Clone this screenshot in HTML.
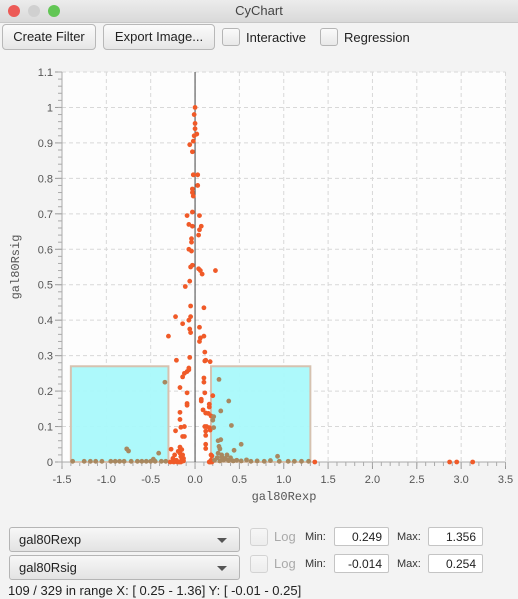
<!DOCTYPE html>
<html><head><meta charset="utf-8">
<style>
body{margin:0;width:518px;height:599px;background:#f3f3f3;font-family:"Liberation Sans",sans-serif;position:relative;overflow:hidden;font-size:13px;color:#222}
.abs{position:absolute}
.btn{position:absolute;border:1px solid #b8b8b8;border-radius:4px;background:linear-gradient(#fbfbfb,#e6e6e6);font-size:13px;text-align:center;line-height:24px;height:24px}
.cb{position:absolute;width:16px;height:16px;border:1px solid #b5b5b5;border-radius:3px;background:linear-gradient(#fafafa,#e8e8e8)}
.inp{position:absolute;background:#fff;border:1px solid #c4c4c4;border-radius:2px;height:19px;line-height:19px;text-align:right;padding-right:6px;box-sizing:border-box;font-size:12px}
.lbl{position:absolute;font-size:11px;color:#333}
.combo{position:absolute;left:9px;width:231px;height:25px;border:1px solid #b5b5b5;border-radius:3px;background:linear-gradient(#f7f7f7,#e3e3e3);box-sizing:border-box;font-size:13px;line-height:23px;padding-left:9px}
.combo:after{content:"";position:absolute;right:12px;top:10px;border-left:5px solid transparent;border-right:5px solid transparent;border-top:5px solid #555}
</style></head><body>
<div class="abs" style="left:0;top:0;width:518px;height:22px;background:linear-gradient(#ececec,#d9d9d9);border-bottom:1px solid #c8c8c8">
<div class="abs" style="left:8px;top:5px;width:12px;height:12px;border-radius:50%;background:#ec5a56"></div>
<div class="abs" style="left:28px;top:5px;width:12px;height:12px;border-radius:50%;background:#d0d0d0"></div>
<div class="abs" style="left:48px;top:5px;width:12px;height:12px;border-radius:50%;background:#62c655"></div>
<div class="abs" style="left:0;width:518px;top:3px;text-align:center;font-size:13px;color:#444">CyChart</div>
</div>
<div class="btn" style="left:2px;top:24px;width:92px">Create Filter</div>
<div class="btn" style="left:103px;top:24px;width:110px">Export Image...</div>
<div class="cb" style="left:222px;top:28px"></div>
<div class="abs" style="left:246px;top:30px">Interactive</div>
<div class="cb" style="left:320px;top:28px"></div>
<div class="abs" style="left:344px;top:30px">Regression</div>

<svg class="abs" style="left:0;top:0" width="518" height="520" id="chart"></svg>

<div class="combo" style="top:527px">gal80Rexp</div>
<div class="combo" style="top:555px">gal80Rsig</div>
<div class="cb" style="left:250px;top:528px;opacity:.5"></div>
<div class="abs" style="left:274px;top:529px;color:#aaa">Log</div>
<div class="lbl" style="left:305px;top:531px">Min:</div>
<div class="inp" style="left:334px;top:527px;width:55px">0.249</div>
<div class="lbl" style="left:397px;top:531px">Max:</div>
<div class="inp" style="left:428px;top:527px;width:55px">1.356</div>
<div class="cb" style="left:250px;top:555px;opacity:.5"></div>
<div class="abs" style="left:274px;top:556px;color:#aaa">Log</div>
<div class="lbl" style="left:305px;top:558px">Min:</div>
<div class="inp" style="left:334px;top:554px;width:55px">-0.014</div>
<div class="lbl" style="left:397px;top:558px">Max:</div>
<div class="inp" style="left:428px;top:554px;width:55px">0.254</div>
<div class="abs" style="left:8px;top:583px;font-size:13px">109 / 329 in range X: [ 0.25 - 1.36] Y: [ -0.01 - 0.25]</div>

<script>
const xTicks=["-1.5","-1.0","-0.5","0.0","0.5","1.0","1.5","2.0","2.5","3.0","3.5"];
const yTicks=["0","0.1","0.2","0.3","0.4","0.5","0.6","0.7","0.8","0.9","1","1.1"];
const orangeX=[0,-0.01,0,0,-0.01,0.02,-0.02,-0.06,-0.03,-0.02,0.03,0.03,-0.03,-0.03,-0.02,-0.03,-0.09,0.05,-0.07,-0.03,0.07,0.05,0.04,-0.04,-0.04,-0.07,-0.04,-0.03,-0.05,0.04,0.06,0.23,0.08,-0.06,-0.11,-0.05,0.1,-0.22,-0.05,-0.07,-0.14,0.05,-0.06,-0.05,0.1,0.06,-0.3,0.05,0.11,-0.06,-0.21,0.11,0.12,0.17,-0.07,-0.07,-0.09,-0.12,-0.14,0.1,0.1,-0.17,-0.09,0.11,0.2,0.07,0.07,-0.09,-0.09,0.16,0.16,-0.17,0.09,0.12,0.15,-0.17,0.18,-0.12,-0.16,-0.22,0.11,0.13,0.16,0.17,0.12,0.12,-0.14,-0.12,0.12,-0.17,0.12,-0.27,-0.17,0.18,0.19,-0.25,-0.23,-0.21,-0.19,-0.17,-0.16,-0.15,-0.14,-0.13,-0.2,-0.18,-0.16,-0.15,-0.13,-0.28,-0.24,0.16,0.17,0.18,0.19,1.35,2.87,2.95,3.13];
const orangeY=[1.0,0.98,0.955,0.94,0.92,0.925,0.905,0.895,0.875,0.81,0.81,0.78,0.77,0.76,0.75,0.705,0.695,0.695,0.67,0.665,0.665,0.655,0.64,0.63,0.62,0.6,0.595,0.555,0.55,0.545,0.54,0.54,0.53,0.51,0.495,0.44,0.435,0.41,0.41,0.4,0.39,0.38,0.375,0.365,0.355,0.35,0.355,0.34,0.31,0.295,0.287,0.285,0.287,0.283,0.265,0.26,0.255,0.25,0.24,0.237,0.225,0.21,0.195,0.195,0.187,0.177,0.172,0.165,0.16,0.163,0.155,0.14,0.147,0.138,0.137,0.12,0.13,0.1,0.098,0.088,0.1,0.1,0.097,0.09,0.087,0.075,0.072,0.072,0.05,0.042,0.038,0.036,0.033,0.02,0.017,0.01,0.02,0.005,0.03,0.025,0.015,0.035,0.02,0.01,0.0,0.0,0.0,0.005,0.003,0.0,0.0,0.0,0.0,0.005,0.0,0,0,0,0];
const brownX=[-0.34,0.27,0.38,0.29,0.41,0.21,0.2,0.21,0.26,0.29,0.27,0.28,0.44,0.52,0.93,-0.77,-0.75,-0.41,-0.47,-1.38,-1.25,-1.18,-1.12,-1.05,-0.95,-0.9,-0.85,-0.8,-0.72,-0.65,-0.6,-0.55,-0.5,-0.45,-0.38,-0.33,0.22,0.25,0.28,0.3,0.32,0.34,0.36,0.38,0.4,0.43,0.47,0.52,0.58,0.63,0.7,0.78,0.85,0.95,1.05,1.12,1.2,1.28,0.3,0.35,0.26];
const brownY=[0.225,0.233,0.172,0.144,0.103,0.128,0.118,0.097,0.06,0.063,0.044,0.037,0.033,0.05,0.016,0.037,0.031,0.025,0.008,0.002,0.002,0.002,0.002,0.002,0.002,0.002,0.002,0.002,0.002,0.002,0.002,0.002,0.002,0.002,0.002,0.002,0.005,0.012,0.003,0.015,0.006,0.01,0.02,0.004,0.012,0.003,0.005,0.003,0.006,0.002,0.003,0.002,0.004,0.002,0.002,0.002,0.002,0.002,0.02,0.008,0.025];
const rectsX0=[-1.4,0.18],rectsX1=[-0.3,1.3],rectsY1=[0.27,0.27];
const NS="http://www.w3.org/2000/svg",svg=document.getElementById('chart');
const L=62,R=505.5,T=72,B=462,xmin=-1.5,xmax=3.5,ymin=0,ymax=1.1;
const sx=v=>L+(v-xmin)/(xmax-xmin)*(R-L), sy=v=>B-(v-ymin)/(ymax-ymin)*(B-T);
function mk(t,a){const e=document.createElementNS(NS,t);for(const k in a)e.setAttribute(k,a[k]);svg.appendChild(e);return e;}
let bg=mk('rect',{x:L,y:T,width:R-L,height:B-T,fill:'#fdfdfd'});


xTicks.forEach(t=>{const x=sx(+t);
 let g=mk('line',{x1:x,x2:x,y1:T,y2:B,stroke:'#d8d8d8','stroke-dasharray':'4,3'});
 
 
 mk('line',{x1:x,x2:x,y1:B,y2:B+7,stroke:'#999'});
 let tx=mk('text',{x:x,y:B+21,'text-anchor':'middle','font-size':'11',fill:'#555','font-family':'Liberation Sans,sans-serif'});tx.textContent=t;
 
 });
for(let v=xmin;v<=xmax+1e-9;v+=0.1){const x=sx(v);mk('line',{x1:x,x2:x,y1:B,y2:B+4,stroke:'#aaa'});}
yTicks.forEach(t=>{const y=sy(+t);
 let g=mk('line',{x1:L,x2:R,y1:y,y2:y,stroke:'#d8d8d8','stroke-dasharray':'4,3'});
 
 
 mk('line',{x1:L-7,x2:L,y1:y,y2:y,stroke:'#999'});
 let tx=mk('text',{x:L-9,y:y+4,'text-anchor':'end','font-size':'11',fill:'#555','font-family':'Liberation Sans,sans-serif'});tx.textContent=t;
 
 });
for(let v=0;v<=ymax+1e-9;v+=0.02){const y=sy(v);mk('line',{x1:L-4,x2:L,y1:y,y2:y,stroke:'#aaa'});}
mk('line',{x1:L,x2:R,y1:B,y2:B,stroke:'#aaa'});
mk('line',{x1:L,x2:L,y1:T,y2:B,stroke:'#aaa'});
let z=mk('line',{x1:sx(0),x2:sx(0),y1:T,y2:B,stroke:'#444'});


rectsX0.forEach((v,i)=>{let r=mk('rect',{x:sx(v),y:sy(rectsY1[i]),width:sx(rectsX1[i])-sx(v),height:B-sy(rectsY1[i]),fill:'#a9f9fb','fill-opacity':'0.95',stroke:'#d6c2b0','stroke-width':'2'});
 
 });
orangeX.forEach((v,i)=>{let c=mk('circle',{cx:sx(v),cy:sy(orangeY[i]),r:2.4,fill:'#f05a28'});
 
 });
brownX.forEach((v,i)=>{let c=mk('circle',{cx:sx(v),cy:sy(brownY[i]),r:2.4,fill:'#a88860'});
 
 });
let xl=mk('text',{x:284,y:500,'text-anchor':'middle','font-size':'12',fill:'#555','font-family':'Liberation Mono,monospace'});xl.textContent='gal80Rexp';


let yl=mk('text',{x:0,y:0,'text-anchor':'middle','font-size':'12',fill:'#555','font-family':'Liberation Mono,monospace',transform:'translate(19,267) rotate(-90)'});yl.textContent='gal80Rsig';


</script>
</body></html>
